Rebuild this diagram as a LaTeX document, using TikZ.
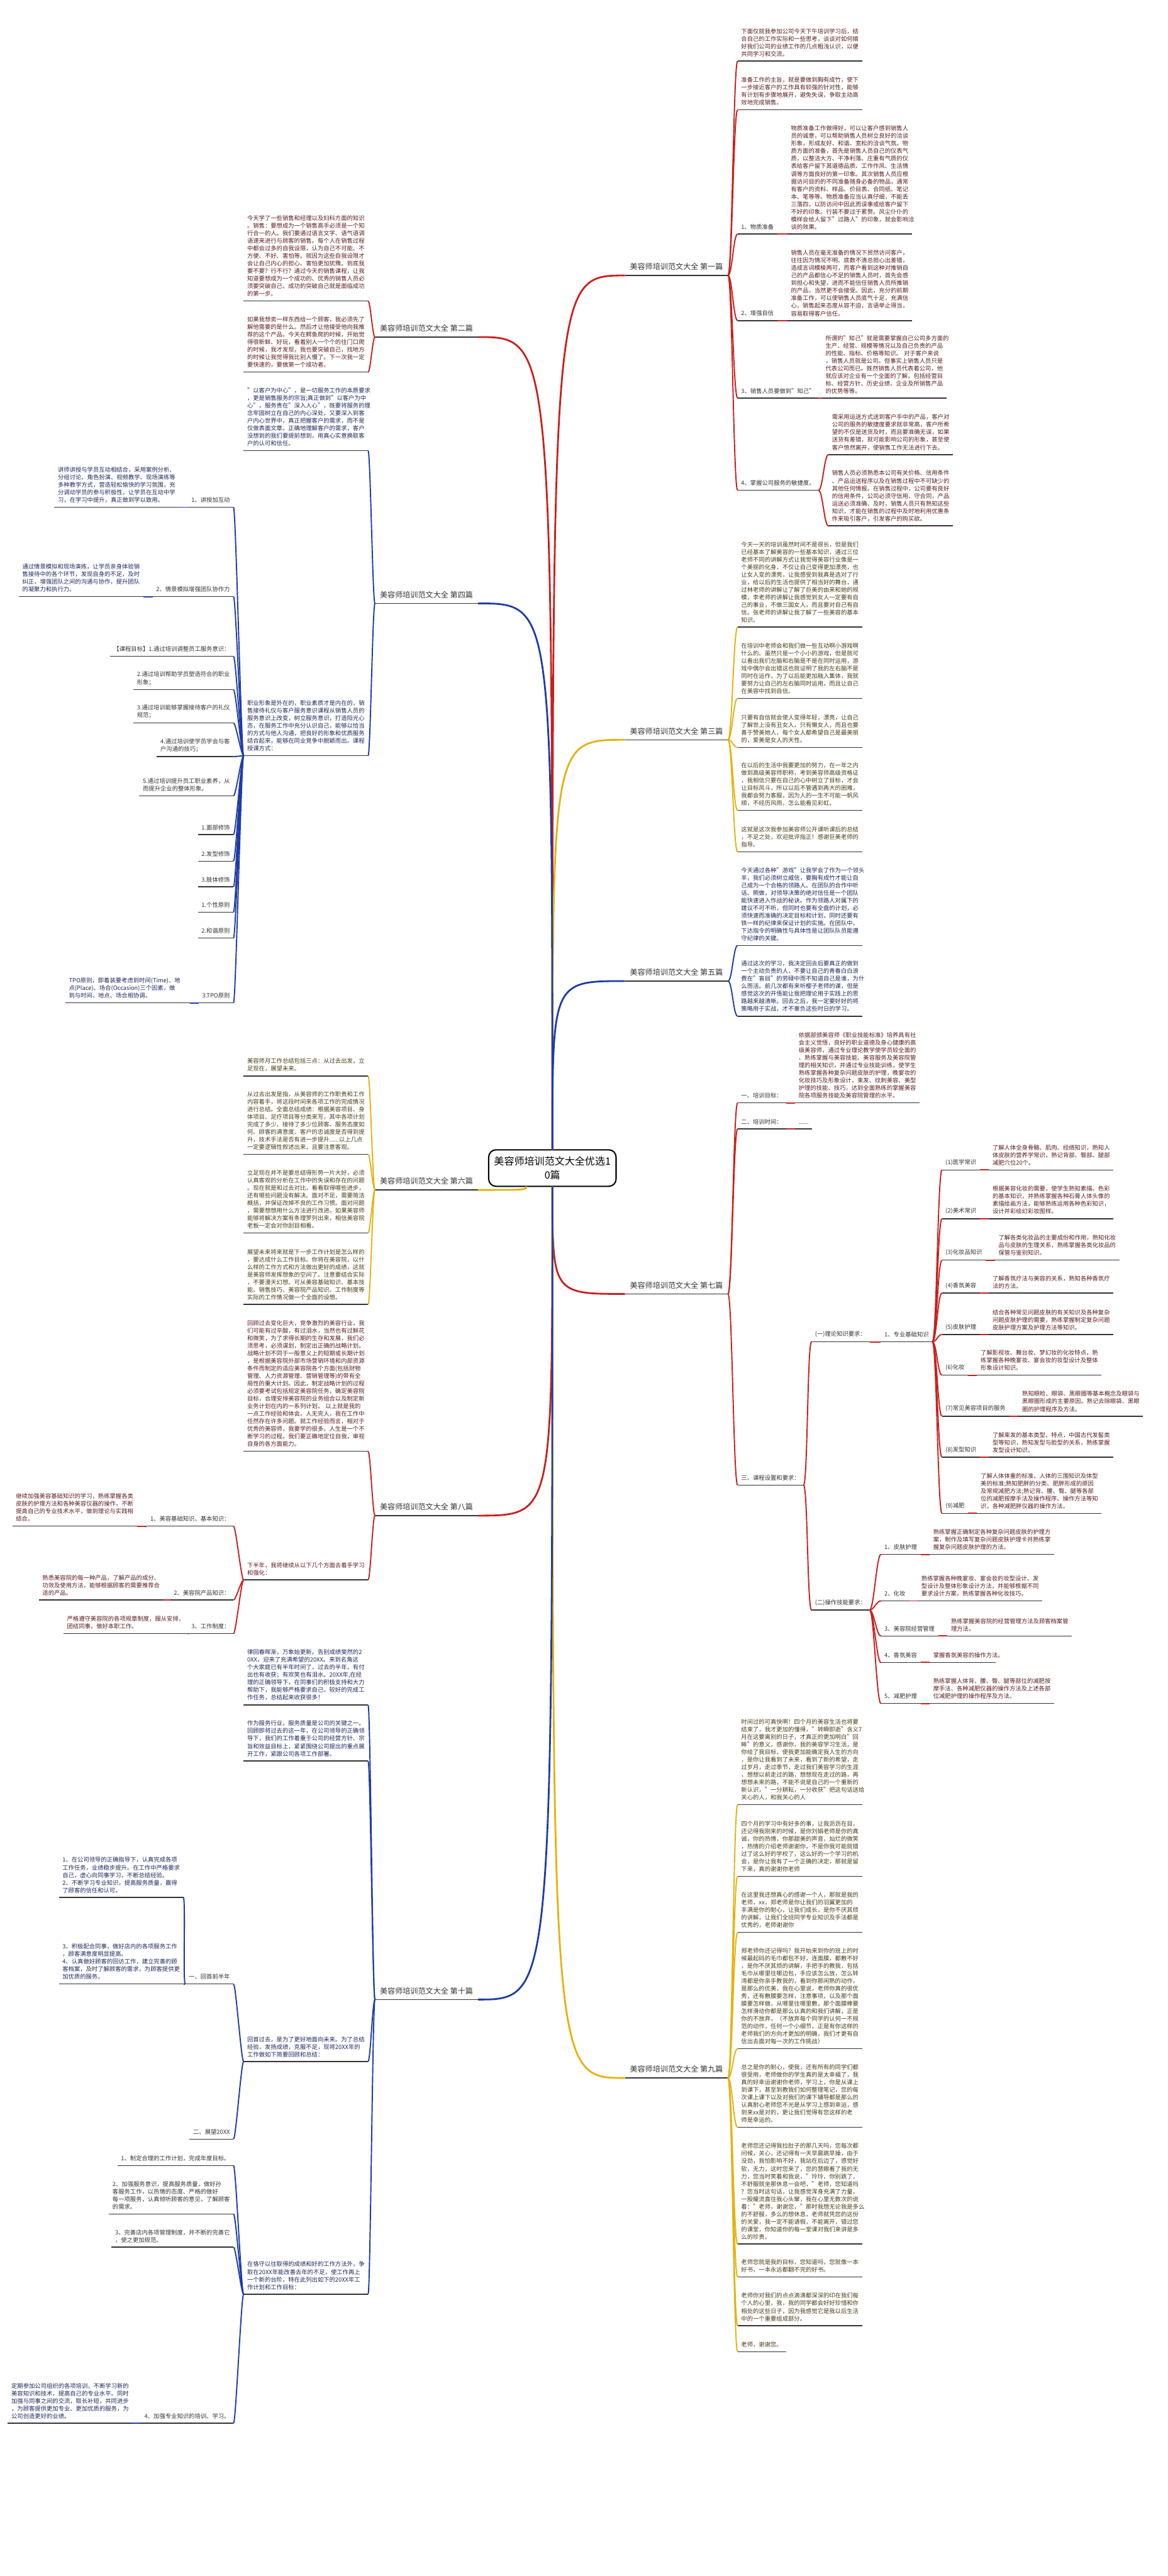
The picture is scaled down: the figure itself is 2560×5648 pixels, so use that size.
\documentclass[tikz,border=0pt]{standalone}
\usepackage{fontspec}
\setmainfont{Noto Sans CJK SC}
\usetikzlibrary{positioning}
\definecolor{brRed}{HTML}{C8201C}
\definecolor{brGold}{HTML}{E5B20E}
\definecolor{brBlue}{HTML}{1E3CA6}
\definecolor{inkRed}{HTML}{5A1C1C}
\definecolor{inkGold}{HTML}{4A3B14}
\definecolor{inkBlue}{HTML}{1C285C}
\definecolor{ink}{HTML}{333333}
\newcommand\bodyfont{\fontsize{3.66pt}{4.72pt}\selectfont\lineskiplimit=-20pt\lineskip=0pt\relax}
\newcommand\pianfont{\fontsize{4.75pt}{6pt}\selectfont\lineskiplimit=-20pt\relax}
\newcommand\rootfont{\fontsize{6.3pt}{8.25pt}\selectfont\lineskiplimit=-20pt\relax}

\begin{document}
\begin{tikzpicture}[x=0.1mm, y=-0.1mm]
\tikzset{
every node/.style={outer sep=0pt},
uline/.style={draw=ink, line width=0.55pt, -}, % the line under every topic
item/.style={anchor=south west, align=left, inner xsep=0.8mm, inner ysep=0.97mm, font=\bodyfont, text=ink,
  append after command={(\tikzlastnode.south west) edge[uline] (\tikzlastnode.south east)}},
itemL/.style={item, anchor=south east},
para/.style={item, text width=25.7mm}, % long text, 20 characters a line
paraR/.style={para, text=inkRed},
paraG/.style={para, text=inkGold},
paraB/.style={para, text=inkBlue},
pian/.style={item, font=\pianfont, inner xsep=1.1mm, inner ysep=1.14mm},
root/.style={draw=black, line width=0.8pt, rounded corners=1.6mm, minimum width=27.9mm, minimum height=8mm, font=\rootfont, align=center},
twigR/.style={line width=0.75pt, to path={.. controls +(9,0) and +(-9,0) .. (\tikztotarget)}},
twigL/.style={line width=0.75pt, to path={.. controls +(-5,0) and +(5,0) .. (\tikztotarget)}},
trunk/.style={line width=1.1pt, to path={.. controls (\tikztostart |- \tikztotarget) .. (\tikztotarget)}},
}
\fill[white] (0,0) rectangle (2560,5648);
\useasboundingbox (0,0) rectangle (2560,5648);

% centre
\node[root] (ctr) at (1211,2561) {美容师培训范文大全优选1\\0篇};
\coordinate (c6) at ([xshift=-5.7mm]ctr.south);

% the ten branches
\node[pian] (p1) at (1370,604) {美容师培训范文大全 第一篇};
\node[pian] (p3) at (1370,1622) {美容师培训范文大全 第三篇};
\node[pian] (p5) at (1370,2151) {美容师培训范文大全 第五篇};
\node[pian] (p7) at (1370,2837) {美容师培训范文大全 第七篇};
\node[pian] (p9) at (1370,4556) {美容师培训范文大全 第九篇};
\node[pian, anchor=south east] (p2) at (1048,739) {美容师培训范文大全 第二篇};
\node[pian, anchor=south east] (p4) at (1048,1323) {美容师培训范文大全 第四篇};
\node[pian, anchor=south east] (p6) at (1048,2609) {美容师培训范文大全 第六篇};
\node[pian, anchor=south east] (p8) at (1048,3323) {美容师培训范文大全 第八篇};
\node[pian, anchor=south east] (p10) at (1048,4384) {美容师培训范文大全 第十篇};

\draw[brRed] (ctr.north) edge[trunk] (p1.south west) edge[trunk] (p2.south east);
\draw[brGold] (ctr.north) edge[trunk] (p3.south west);
\draw[brBlue] (ctr.north) edge[trunk] (p4.south east) edge[trunk] (p5.south west);
\draw[brGold] (c6) edge[trunk] (p6.south east);
\draw[brRed] (ctr.south) edge[trunk] (p7.south west) edge[trunk] (p8.south east);
\draw[brGold] (ctr.south) edge[trunk] (p9.south west);
\draw[brBlue] (ctr.south) edge[trunk] (p10.south east);

% 第一篇
\node[paraR] (a1) at (1617,134) {下面仅就我参加公司今天下午培训学习后，结\\合自己的工作实际和一些思考，谈谈对如何搞\\好我们公司的业绩工作的几点粗浅认识，以便\\共同学习和交流。};
\node[paraR] (a2) at (1617,241) {准备工作的主旨，就是要做到胸有成竹，使下\\一步接近客户的工作具有较强的针对性，能够\\有计划有步骤地展开，避免失误，争取主动高\\效地完成销售。};
\node[item] (h11) at (1617,513) {1、物质准备};
\node[paraR] (t11) at (1726,513) {物质准备工作做得好，可以让客户感到销售人\\员的诚意，可以帮助销售人员树立良好的洽谈\\形象，形成友好、和谐、宽松的洽谈气氛。物\\质方面的准备，首先是销售人员自己的仪表气\\质，以整洁大方、干净利落、庄重有气质的仪\\表给客户留下其道德品质、工作作风、生活情\\调等方面良好的第一印象。其次销售人员应根\\据访问目的的不同准备随身必备的物品，通常\\有客户的资料、样品、价目表、合同纸、笔记\\本、笔等等。物质准备应当认真仔细，不能丢\\三落四，以防访问中因此而误事或给客户留下\\不好的印象。行装不要过于累赘。风尘仆仆的\\模样会给人留下"过路人"的印象，就会影响洽\\谈的效果。};
\node[item] (h12) at (1617,703) {2、增强自信};
\node[paraR] (t12) at (1726,703) {销售人员在毫无准备的情况下贸然访问客户，\\往往因为情况不明、底数不清总担心出差错，\\造成言词模棱两可，而客户看到这种对推销自\\己的产品都信心不足的销售人员时，首先会感\\到担心和失望，进而不能信任销售人员所推销\\的产品，当然更不会接受。因此，充分的前期\\准备工作，可以使销售人员底气十足，充满信\\心，销售起来态度从容不迫，言语举止得当，\\容易取得客户信任。};
\node[item] (h13) at (1617,873) {3、销售人员要做到"知己"};
\node[paraR] (t13) at (1802,873) {所谓的"知己"就是需要掌握自己公司多方面的\\生产、经营、规模等情况以及自己负责的产品\\的性能、指标、价格等知识。 对于客户来说\\，销售人员就是公司。但事实上销售人员只是\\代表公司而已。既然销售人员代表着公司，他\\就应该对企业有一个全面的了解，包括经营目\\标、经营方针、历史业绩、企业及所销售产品\\的优势等等。};
\node[item] (h14) at (1617,1075) {4、掌握公司服务的敏捷度。};
\node[paraR] (t14a) at (1816,997) {需采用运送方式送到客户手中的产品，客户对\\公司的服务的敏捷度要求就非常高，客户所希\\望的不仅是送货及时，而且要准确无误，如果\\送货有差错，就可能影响公司的形象，甚至使\\客户愤然离开，使销售工作无法进行下去。};
\node[paraR] (t14b) at (1816,1153) {销售人员必须熟悉本公司有关价格、信用条件\\、产品运送程序以及在销售过程中不可缺少的\\其他任何情报。在销售过程中，公司要有良好\\的信用条件，公司必须守信用、守合同，产品\\运送必须准确、及时，销售人员只有熟知这些\\知识，才能在销售的过程中及时地利用优惠条\\件来吸引客户，引发客户的购买欲。};
\draw[brRed] (p1.south east) edge[twigR] (a1.south west) edge[twigR] (a2.south west)
  edge[twigR] (h11.south west) edge[twigR] (h12.south west) edge[twigR] (h13.south west) edge[twigR] (h14.south west);
\draw[brRed] (h11.south east) edge[twigR] (t11.south west);
\draw[brRed] (h12.south east) edge[twigR] (t12.south west);
\draw[brRed] (h13.south east) edge[twigR] (t13.south west);
\draw[brRed] (h14.south east) edge[twigR] (t14a.south west) edge[twigR] (t14b.south west);

% 第二篇
\node[paraR] (b1) at (534,660) {今天学了一些销售和经理以及妇科方面的知识\\。销售：要想成为一个销售高手必须是一个知\\行合一的人。我们要通过语言文字、语气语调\\语速来进行与顾客的销售。每个人在销售过程\\中都会过多的自我设限，认为自己不可能、不\\方便、不好、害怕等。就因为这些自我设限才\\会让自己内心的担心、害怕更加犹豫。到底我\\要不要？行不行？通过今天的销售课程，让我\\知道要想成为一个成功的、优秀的销售人员必\\须要突破自己，成功的突破自己就是面临成功\\的第一步。};
\node[paraR] (b2) at (534,816) {如果我想卖一样东西给一个顾客，我必须先了\\解他需要的是什么。然后才让他接受他向我推\\荐的这个产品。今天在鳄鱼爬的时候，开始觉\\得很新鲜、好玩，看着别人一个个的往门口爬\\的时候，我才发现，我也要突破自己，找地方\\的时候让我觉得我比别人慢了。下一次我一定\\要快速的，要做第一个成功者。};
\draw[brRed] (p2.south west) edge[twigL] (b1.south east) edge[twigL] (b2.south east);

% 第三篇
\node[paraG] (c1) at (1617,1375) {今天一天的培训虽然时间不是很长，但是我们\\已经基本了解美容的一些基本知识，通过三位\\老师不同的讲解方式让我觉得美容行业像是一\\个美丽的化身，不仅让自己变得更加漂亮，也\\让女人变的漂亮，让我感受到我真是选对了行\\业，给以后的生活也提供了相当好的舞台，通\\过林老师的讲解让了解了巨美的由来和她的规\\模，李老师的讲解让我感觉到女人一定要有自\\己的事业，不做三国女人，而且要对自己有自\\信。张老师的讲解让我了解了一些美容的基本\\知识。};
\node[paraG] (c2) at (1617,1531) {在培训中老师会和我们做一些互动啊小游戏啊\\什么的。虽然只是一个小小的游戏，但是就可\\以看出我们左脑和右脑是不是在同时运用，游\\戏中偶尔会出错这也就证明了我的左右脑不是\\同时在运作，为了以后能更加融入集体，我就\\要努力让自己的左右脑同时运用，而且让自己\\在美容中找到自信。};
\node[paraG] (c3) at (1617,1639) {只要有自信就会使人变得年轻，漂亮，让自己\\了解世上没有丑女人，只有懒女人，而且也要\\善于赞美她人，每个女人都希望自己是最美丽\\的，爱美是女人的天性。};
\node[paraG] (c4) at (1617,1777) {在以后的生活中我要更加的努力，在一年之内\\做到高级美容师职称，考到美容师高级资格证\\，我相信只要在自己的心中树立了目标，才会\\让目标风斗，所以以后不管遇到再大的困难，\\我都会努力客服，因为人的一生不可能一帆风\\顺，不经历风雨，怎么能看见彩虹。};
\node[paraG] (c5) at (1617,1868) {这就是这次我参加美容师公开课听课后的总结\\，不足之处，欢迎批评指正！感谢巨美老师的\\指导。};
\draw[brGold] (p3.south east) edge[twigR] (c1.south west) edge[twigR] (c2.south west)
  edge[twigR] (c3.south west) edge[twigR] (c4.south west) edge[twigR] (c5.south west);

% 第四篇
\node[paraB] (d1) at (534,988) {"以客户为中心"，是一切服务工作的本质要求\\，更是销售服务的宗旨;真正做到"以客户为中\\心"，服务贵在"深入人心"，既要将服务的理\\念牢固树立在自己的内心深处，又要深入到客\\户内心世界中，真正把握客户的需求，而不是\\仅做表面文章。正确地理解客户的需求，客户\\没想到的我们要提前想到，用真心实意换取客\\户的认可和信任。};
\node[paraB] (d2) at (534,1657) {职业形象是外在的，职业素质才是内在的，销\\售接待礼仪与客户服务意识课程从销售人员的\\服务意识上改变，树立服务意识，打造阳光心\\态，在服务工作中充分认识自己，能够以恰当\\的方式与他人沟通，把良好的形象和优质服务\\结合起来，能够在同业竞争中脱颖而出。课程\\授课方式：};
\draw[brBlue] (p4.south west) edge[twigL] (d1.south east) edge[twigL] (d2.south east);
\node[itemL] (q1) at (512,1112) {1、讲授加互动};
\node[paraB, anchor=south east] (q1t) at (392,1112) {讲师讲授与学员互动相结合，采用案例分析、\\分组讨论、角色扮演、视频教学、现场演练等\\多种教学方式，营造轻松愉快的学习氛围，充\\分调动学员的参与积极性，让学员在互动中学\\习，在学习中提升，真正做到学以致用。};
\node[itemL] (q2) at (512,1308) {2、情景模拟增强团队协作力};
\node[paraB, anchor=south east] (q2t) at (314,1308) {通过情景模拟和现场演练，让学员亲身体验销\\售接待中的各个环节，发现自身的不足，及时\\纠正，增强团队之间的沟通与协作，提升团队\\的凝聚力和执行力。};
\node[itemL] (q3) at (512,1439) {【课程目标】1.通过培训调整员工服务意识：};
\node[itemL] (q4) at (512,1512) {2.通过培训帮助学员塑造符合的职业\\形象；};
\node[itemL] (q5) at (512,1585) {3.通过培训能够掌握接待客户的礼仪\\规范；};
\node[itemL] (q6) at (512,1659) {4.通过培训使学员学会与客\\户沟通的技巧；};
\node[itemL] (q7) at (512,1745) {5.通过培训提升员工职业素养，从\\而提升企业的整体形象。};
\node[itemL] (q8) at (512,1830) {1.面部修饰};
\node[itemL] (q9) at (512,1888) {2.发型修饰};
\node[itemL] (q10) at (512,1944) {3.肢体修饰};
\node[itemL] (q11) at (512,2000) {1.个性原则};
\node[itemL] (q12) at (512,2057) {2.和谐原则};
\node[itemL] (q13) at (512,2199) {3.TPO原则};
\node[paraB, anchor=south east] (q13t) at (416,2199) {TPO原则，即着装要考虑到时间(Time)、地\\点(Place)、场合(Occasion)三个因素，做\\到与时间、地点、场合相协调。};
\draw[brBlue] (d2.south west) edge[twigL] (q1.south east) edge[twigL] (q2.south east) edge[twigL] (q3.south east)
  edge[twigL] (q4.south east) edge[twigL] (q5.south east) edge[twigL] (q6.south east) edge[twigL] (q7.south east)
  edge[twigL] (q8.south east) edge[twigL] (q9.south east) edge[twigL] (q10.south east) edge[twigL] (q11.south east)
  edge[twigL] (q12.south east) edge[twigL] (q13.south east);
\draw[brBlue, line width=0.75pt] (q1.south west) -- (q1t.south east);
\draw[brBlue, line width=0.75pt] (q2.south west) -- (q2t.south east);
\draw[brBlue, line width=0.75pt] (q13.south west) -- (q13t.south east);

% 第五篇
\node[paraB] (e1) at (1617,2073) {今天通过各种"游戏"让我学会了作为一个领头\\羊，我们必须树立威信，要胸有成竹才能让自\\己成为一个合格的领路人。在团队的合作中听\\话、照做，对领导决策的绝对信任是一个团队\\能快速进入作战的秘诀。作为领路人对属下的\\建议不可不听，但同时也要有全盘的计划，必\\须快速而准确的决定目标和计划，同时还要有\\铁一样的纪律来保证计划的实施。在团队中，\\下达指令的明确性与具体性是让团队队员能遵\\守纪律的关键。};
\node[paraB] (e2) at (1617,2228) {通过这次的学习，我决定回去后要真正的做到\\一个主动负责的人，不要让自己的青春白白浪\\费在"盲目"的劳碌中而不知道自己是谁，为什\\么而活。前几次都有来听樱子老师的课，但是\\感觉这次的开悟能让我把理论用于实践上的思\\路越来越清晰。回去之后，我一定要好好的将\\策略用于实战，才不辜负这些时日的学习。};
\draw[brBlue] (p5.south east) edge[twigR] (e1.south west) edge[twigR] (e2.south west);

% 第六篇
\node[paraG] (f1) at (534,2359) {美容师月工作总结包括三点：从过去出发，立\\足现在，展望未来。};
\node[paraG] (f2) at (534,2531) {从过去出发是指，从美容师的工作职责和工作\\内容着手，将这段时间来各项工作的完成情况\\进行总结。全面总结成绩：根据美容项目、身\\体项目、足疗项目等分类来写，其中各项计划\\完成了多少、接待了多少位顾客、服务态度如\\何、顾客的满意度、客户的忠诚度是否得到提\\升，技术手法是否有进一步提升......以上几点\\一定要逻辑性叙述出来，且要注意客观。};
\node[paraG] (f3) at (534,2703) {立足现在并不是要总结得形势一片大好，必须\\认真客观的分析在工作中的失误和存在的问题\\。现在就是和过去对比，看看取得哪些进步，\\还有哪些问题没有解决。面对不足，需要简洁\\概括，并保证改掉不良的工作习惯。面对问题\\，需要想想用什么方法进行改进。如果美容师\\能够将解决方案有条理罗列出来，相信美容院\\老板一定会对你刮目相看。};
\node[paraG] (f4) at (534,2860) {展望未来将来就是下一步工作计划是怎么样的\\，要达成什么工作目标。你将在美容院，以什\\么样的工作方式和方法做出更好的成绩，这就\\是美容师发挥想象的空间了。注意要结合实际\\，不要漫天幻想。可从美容基础知识、基本技\\能、销售技巧、美容院产品知识、工作制度等\\实际的工作情况做一个全面的设想。};
\draw[brGold] (p6.south west) edge[twigL] (f1.south east) edge[twigL] (f2.south east)
  edge[twigL] (f3.south east) edge[twigL] (f4.south east);

% 第七篇
\node[item] (s71) at (1617,2418) {一、培训目标：};
\node[paraR] (s71t) at (1743,2418) {依据部颁美容师《职业技能标准》培养具有社\\会主义觉悟，良好的职业道德及身心健康的高\\级美容师，通过专业理论教学使学员较全面的\\、熟练掌握与美容技能、美容服务及美容院管\\理的相关知识，并通过专业技能训练，使学生\\熟练掌握各种复杂问题皮肤的护理，晚宴妆的\\化妆技巧及形象设计，束发、纹刺美容、美型\\护理的技能、技巧，达到全面熟练的掌握美容\\院各项服务技能及美容院管理的水平。};
\node[item] (s72) at (1617,2475) {二、培训时间：};
\node[item] (s72t) at (1743,2475) {......};
\node[item] (s73) at (1617,3256) {三、课程设置和要求：};
\node[item] (s731) at (1779,2942) {(一)理论知识要求：};
\node[item] (s7311) at (1931,2942) {1、专业基础知识};
\node[item] (k1) at (2065,2565) {(1)医学常识};
\node[paraR] (k1t) at (2168,2565) {了解人体全身骨骼、肌肉、经络知识，熟知人\\体皮肤的营养学常识，熟记背部、臀部、腿部\\减肥穴位20个。};
\node[item] (k2) at (2065,2672) {(2)美术常识};
\node[paraR] (k2t) at (2168,2672) {根据美容化妆的需要，使学生熟知素描、色彩\\的基本知识，并熟练掌握各种石膏人体头像的\\素描绘画方法，能够熟练运用各种色彩知识，\\设计并彩绘幻彩妆图样。};
\node[item] (k3) at (2065,2763) {(3)化妆品知识};
\node[paraR] (k3t) at (2181,2763) {了解各类化妆品的主要成份和作用，熟知化妆\\品与皮肤的生理关系，熟练掌握各类化妆品的\\保管与鉴别知识。};
\node[item] (k4) at (2065,2835) {(4)香氛美容};
\node[paraR] (k4t) at (2168,2835) {了解香氛疗法与美容的关系，熟知各种香氛疗\\法的方法。};
\node[item] (k5) at (2065,2926) {(5)皮肤护理};
\node[paraR] (k5t) at (2168,2926) {结合各种常见问题皮肤的有关知识及各种复杂\\问题皮肤护理的需要，熟练掌握制定复杂问题\\皮肤护理方案及护理方法等知识。};
\node[item] (k6) at (2065,3015) {(6)化妆};
\node[paraR] (k6t) at (2142,3015) {了解影视妆、舞台妆、梦幻妆的化妆特点，熟\\练掌握各种晚宴妆、宴会妆的妆型设计及整体\\形象设计知识。};
\node[item] (k7) at (2065,3105) {(7)常见美容项目的服务};
\node[paraR] (k7t) at (2233,3105) {熟知眼睑、眼袋、黑眼圈等基本概念及眼袋与\\黑眼圈形成的主要原因。熟记去除眼袋、黑眼\\圈的护理程序及方法。};
\node[item] (k8) at (2065,3195) {(8)发型知识};
\node[paraR] (k8t) at (2168,3195) {了解束发的基本类型、特点，中国古代发髻类\\型等知识，熟知发型与脸型的关系，熟练掌握\\发型设计知识。};
\node[item] (k9) at (2065,3318) {(9)减肥};
\node[paraR] (k9t) at (2142,3318) {了解人体体重的标准，人体的三围知识及体型\\美的标准;熟知肥胖的分类、肥胖形成的原因\\及常规减肥方法;熟记背、腰、臀、腿等各部\\位的减肥按摩手法及操作程序、操作方法等知\\识，各种减肥胖仪器的操作方法。};
\node[item] (s732) at (1779,3530) {(二)操作技能要求：};
\node[item] (m1) at (1931,3408) {1、皮肤护理};
\node[paraR] (m1t) at (2038,3408) {熟练掌握正确制定各种复杂问题皮肤的护理方\\案，制作及填写复杂问题皮肤护理卡并熟练掌\\握复杂问题皮肤护理的方法。};
\node[item] (m2) at (1931,3510) {2、化妆};
\node[paraR] (m2t) at (2012,3510) {熟练掌握各种晚宴妆、宴会妆的妆型设计、发\\型设计及整体形象设计方法，并能够根据不同\\要求设计方案，熟练掌握各种化妆技巧。};
\node[item] (m3) at (1931,3587) {3、美容院经营管理};
\node[paraR] (m3t) at (2077,3587) {熟练掌握美容院的经营管理方法及顾客档案管\\理方法。};
\node[item] (m4) at (1931,3645) {4、香氛美容};
\node[paraR, text width=12.9mm] (m4t) at (2038,3645) {掌握香氛美容的操作方法。};
\node[item] (m5) at (1931,3735) {5、减肥护理};
\node[paraR] (m5t) at (2038,3735) {熟练掌握人体背、腰、臀、腿等部位的减肥按\\摩手法、各种减肥仪器的操作方法及上述各部\\位减肥护理的操作程序及方法。};
\draw[brRed] (p7.south east) edge[twigR] (s71.south west) edge[twigR] (s72.south west) edge[twigR] (s73.south west);
\draw[brRed] (s71.south east) edge[twigR] (s71t.south west);
\draw[brRed] (s72.south east) edge[twigR] (s72t.south west);
\draw[brRed] (s73.south east) edge[twigR] (s731.south west) edge[twigR] (s732.south west);
\draw[brRed] (s731.south east) edge[twigR] (s7311.south west);
\draw[brRed] (s7311.south east) edge[twigR] (k1.south west) edge[twigR] (k2.south west) edge[twigR] (k3.south west)
  edge[twigR] (k4.south west) edge[twigR] (k5.south west) edge[twigR] (k6.south west)
  edge[twigR] (k7.south west) edge[twigR] (k8.south west) edge[twigR] (k9.south west);
\foreach \k in {1,...,9}{\draw[brRed, line width=0.75pt] (k\k.south east) -- (k\k t.south west);}
\draw[brRed] (s732.south east) edge[twigR] (m1.south west) edge[twigR] (m2.south west) edge[twigR] (m3.south west)
  edge[twigR] (m4.south west) edge[twigR] (m5.south west);
\foreach \m in {1,...,5}{\draw[brRed, line width=0.75pt] (m\m.south east) -- (m\m t.south west);}

% 第八篇
\node[paraR] (g1) at (534,3182) {回顾过去变化巨大，竞争激烈的美容行业，我\\们可能有过辛酸，有过泪水，当然也有过鲜花\\和微笑，为了求得长期的生存和发展，我们必\\须思考，必须谋划，制定出正确的战略计划。\\战略计划不同于一般意义上的短期或长期计划\\，是根据美容院外部市场营销环境和内部资源\\条件而制定的适应美容院各个方面(包括财物\\管理、人力资源管理、营销管理等)的带有全\\局性的重大计划。因此，制定战略计划的过程\\必须要考试包括规定美容院任务，确定美容院\\目标，合理安排美容院的业务组合以及制定新\\业务计划在内的一系列计划。 以上就是我的\\一点工作经验和体会。人无完人，我在工作中\\任然存在许多问题。就工作经验而言，相对于\\优秀的美容师，我要学的很多。人生是一个不\\断学习的过程。我们要正确地定位自我，审视\\自身的各方面能力。};
\node[paraR] (g2) at (534,3464) {下半年，我将继续从以下几个方面去着手学习\\和强化：};
\draw[brRed] (p8.south west) edge[twigL] (g1.south east) edge[twigL] (g2.south east);
\node[itemL] (w1) at (512,3346) {1、美容基础知识、基本知识：};
\node[paraR, anchor=south east] (w1t) at (300,3346) {继续加强美容基础知识的学习，熟练掌握各类\\皮肤的护理方法和各种美容仪器的操作，不断\\提高自己的专业技术水平，做到理论与实践相\\结合。};
\node[itemL] (w2) at (512,3508) {2、美容院产品知识：};
\node[paraR, anchor=south east] (w2t) at (358,3508) {熟悉美容院的每一种产品，了解产品的成分、\\功效及使用方法，能够根据顾客的需要推荐合\\适的产品。};
\node[itemL] (w3) at (512,3582) {3、工作制度：};
\node[paraR, anchor=south east] (w3t) at (412,3582) {严格遵守美容院的各项规章制度，服从安排，\\团结同事，做好本职工作。};
\draw[brRed] (g2.south west) edge[twigL] (w1.south east) edge[twigL] (w2.south east) edge[twigL] (w3.south east);
\foreach \w in {1,2,3}{\draw[brRed, line width=0.75pt] (w\w.south west) -- (w\w t.south east);}

% 第九篇
\node[paraG] (i1) at (1617,3957) {时间过的可真快啊！四个月的美容生活也将要\\结束了，我才更加的懂得，"转瞬即逝"含义7\\月在这要离别的日子，才真正的更加明白"回\\眸"的意义，感谢你，我的美容学习生活，是\\你给了我目标，使我更加能确定我人生的方向\\，是你让我看到了未来，看到了新的希望，走\\过岁月，走过季节，走过我们美容学习的生涯\\，想想以前走过的路，想想现在走过的路，再\\想想未来的路，不能不说是自己的一个重新的\\新认识，"一分耕耘，一分收获"把这句话送给\\关心的人，和我关心的人};
\node[paraG] (i2) at (1617,4114) {四个月的学习中有好多的事，让我沥沥在目，\\还记得我刚来的时候，是你刘娟老师是你的真\\诚，你的热情，你那甜美的声音，灿烂的微笑\\，热情的介绍老师谢谢你，不是你我可能就错\\过了这么好的学校了，这么好的一个学习的机\\会，是你让我有了一个正确的决定，那就是留\\下来，真的谢谢你老师};
\node[paraG] (i3) at (1617,4237) {在这里我还想真心的感谢一个人，那就是我的\\老师，xx，郑老师是你让我们的羽翼更加的\\丰满是你的耐心，让我们成长，是你不厌其烦\\的讲解，让我们全班同学专业知识及手法都是\\优秀的，老师谢谢你};
\node[paraG] (i4) at (1617,4492) {郑老师你还记得吗？我开始来到你的班上的时\\候最起码的毛巾都包不好，连面膜，都敷不好\\，是你不厌其烦的讲解，手把手的教我，包括\\毛巾从哪里往哪边包，手应该怎么放，怎么转\\湾都是你亲手教我的，看到你那闲熟的动作，\\是那么的优美，我在心里说，老师你真的很优\\秀，还有敷膜要怎样，注意事项，以及那个面\\膜要怎样做，从哪里往哪里敷，那个面膜棒要\\怎样滑动你都是那么认真的和我们讲解，正是\\你的不放弃，（不放弃每个同学的认何一不规\\范的动作，任何一个小细节，正是有你这样的\\老师我们的方向才更加的明确，我们才更有自\\信出去面对每一次的工作挑战）};
\node[paraG] (i5) at (1617,4664) {总之是你的耐心，使我，还有所有的同学们都\\很受用，老师做你的学生真的是太幸福了，我\\真的好幸运谢谢你老师，学习上，你是从课上\\到课下，甚至到教我们如何整理笔记，您的每\\次课上课下以及对我们的课下辅导都是那么的\\认真耐心老师您不光是从学习上感到幸运，感\\到来xx是对的，更让我们觉得有您这样的老\\师是幸运的。};
\node[paraG] (i6) at (1617,4920) {老师您还记得我拉肚子的那几天吗，您每次都\\问候，关心，还记得有一天早晨跳早操，由于\\没劲，我怕影响不好，我站在后边了，感觉好\\软，无力，这时您来了，您的慧眼看了我的无\\力，您当时笑着和我说，"玲玲，你别跳了，\\不舒服就坐那休息一会吧，"老师，您知道吗\\？您当时这句话，让我感觉浑身充满了力量，\\一股暖流直往我心头窜，我在心里无数次的说\\着："老师，谢谢您，"那时我想无论我是多么\\的不舒服，多么的想休息，老师就凭您的这份\\的关爱，我一定不能请假，不能离开，错过您\\的课堂，你知道你的每一堂课对我们来讲是多\\么的珍贵。};
\node[paraG] (i7) at (1617,4992) {老师您就是我的目标，您知道吗，您就像一本\\好书，一本永远都翻不完的好书。};
\node[paraG] (i8) at (1617,5099) {老师你对我们的点点滴滴都深深的印在我们每\\个人的心里，我，我的同学都会好好珍惜和你\\相处的这些日子，因为我感觉它是我以后生活\\中的一个重要组成部分。};
\node[item, text=inkGold] (i9) at (1617,5156) {老师，谢谢您。};
\draw[brGold] (p9.south east) edge[twigR] (i1.south west) edge[twigR] (i2.south west) edge[twigR] (i3.south west)
  edge[twigR] (i4.south west) edge[twigR] (i5.south west) edge[twigR] (i6.south west)
  edge[twigR] (i7.south west) edge[twigR] (i8.south west) edge[twigR] (i9.south west);

% 第十篇
\node[paraB] (j1) at (534,3738) {律回春晖渐，万象始更新。告别成绩斐然的2\\0XX，迎来了充满希望的20XX。来到名角这\\个大家庭已有半年时间了，过去的半年，有付\\出也有收获；有欢笑也有泪水。20XX年,在经\\理的正确领导下，在同事们的积极支持和大力\\帮助下，我能够严格要求自己，较好的完成工\\作任务，总结起来收获很多！};
\node[paraB] (j2) at (534,3861) {作为服务行业，服务质量是公司的关键之一。\\回顾即将过去的这一年，在公司领导的正确领\\导下，我们的工作着重于公司的经营方针、宗\\旨和效益目标上，紧紧围绕公司提出的重点展\\开工作，紧跟公司各项工作部署。};
\node[paraB] (j3) at (534,4520) {回首过去，是为了更好地面向未来。为了总结\\经验，发扬成绩，克服不足，现将20XX年的\\工作做如下简要回顾和总结：};
\node[paraB] (j4) at (534,5030) {在恪守以往取得的成绩和好的工作方法外，争\\取在20XX年能改善去年的不足，使工作再上\\一个新的台阶，特在此列出如下的20XX年工\\作计划和工作目标：};
\draw[brBlue] (p10.south west) edge[twigL] (j1.south east) edge[twigL] (j2.south east)
  edge[twigL] (j3.south east) edge[twigL] (j4.south east);
\node[itemL] (r1) at (512,4350) {一、回首前半年};
\node[paraB, anchor=south east] (r1a) at (402,4160) {1、在公司领导的正确指导下，认真完成各项\\工作任务，业绩稳步提升。在工作中严格要求\\自己，虚心向同事学习，不断总结经验。\\2、不断学习专业知识，提高服务质量，赢得\\了顾客的信任和认可。};
\node[paraB, anchor=south east] (r1b) at (402,4350) {3、积极配合同事，做好店内的各项服务工作\\，顾客满意度明显提高。\\4、认真做好顾客的回访工作，建立完善的顾\\客档案，及时了解顾客的需求，为顾客提供更\\加优质的服务。};
\node[itemL] (r2) at (512,4690) {二、展望20XX};
\node[itemL] (r3) at (512,4748) {1、制定合理的工作计划，完成年度目标。};
\node[itemL] (r4) at (512,4854) {2、加强服务意识，提高服务质量，做好孙\\客服务工作，以热情的态度、严格的做好\\每一项服务，认真倾听顾客的意见，了解顾客\\的需求。};
\node[itemL] (r5) at (512,4927) {3、完善店内各项管理制度，并不断的完善它\\，使之更加规范。};
\node[itemL] (r6) at (512,5313) {4、加强专业知识的培训、学习。};
\node[paraB, anchor=south east] (r6t) at (290,5313) {定期参加公司组织的各项培训，不断学习新的\\美容知识和技术，提高自己的专业水平。同时\\加强与同事之间的交流，取长补短，共同进步\\，为顾客提供更加专业、更加优质的服务，为\\公司创造更好的业绩。};
\draw[brBlue] (j3.south west) edge[twigL] (r1.south east) edge[twigL] (r2.south east);
\draw[brBlue] (j4.south west) edge[twigL] (r3.south east) edge[twigL] (r4.south east)
  edge[twigL] (r5.south east) edge[twigL] (r6.south east);
\draw[brBlue] (r1.south west) edge[twigL] (r1a.south east) edge[twigL] (r1b.south east);
\draw[brBlue, line width=0.75pt] (r6.south west) -- (r6t.south east);
\end{tikzpicture}
\end{document}
